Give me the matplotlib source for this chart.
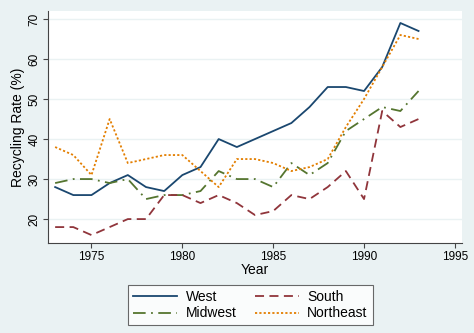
import numpy as np
import matplotlib
matplotlib.use("Agg")
import matplotlib.pyplot as plt

plt.rcParams['font.family'] = ['Liberation Sans', 'DejaVu Sans']

years = np.arange(1973, 1994)
west = [28, 26, 26, 29, 31, 28, 27, 31, 33, 40, 38, 40, 42, 44, 48, 53, 53, 52, 58, 69, 67]
south = [18, 18, 16, 18, 20, 20, 26, 26, 24, 26, 24, 21, 22, 26, 25, 28, 32, 25, 47, 43, 45]
midwest = [29, 30, 30, 29, 30, 25, 26, 26, 27, 32, 30, 30, 28, 34, 31, 34, 42, 45, 48, 47, 52]
northeast = [38, 36, 31, 45, 34, 35, 36, 36, 32, 28, 35, 35, 34, 32, 33, 35, 43, 50, 58, 66, 65]

xticks = [1975, 1980, 1985, 1990, 1995]
yticks = [20, 30, 40, 50, 60, 70]

bg = "#eaf2f3"
fig = plt.figure(figsize=(4.74, 3.33), dpi=100, facecolor=bg)
ax = fig.add_axes([0.101, 0.270, 0.874, 0.697])
ax.set_facecolor("white")

ax.plot(years, west, color="#1a476f", lw=1.3, label="West")
ax.plot(years, midwest, color="#55752f", lw=1.3, ls=(0, (7, 3, 1, 3)), label="Midwest")
ax.plot(years, south, color="#90353b", lw=1.3, ls=(0, (5, 3)), label="South")
ax.plot(years, northeast, color="#e37e00", lw=1.3, ls=(0, (1.2, 1.2)), label="Northeast")

ax.set_xlim(1972.6, 1995.4)
ax.set_ylim(14, 72)
ax.set_xticks(xticks)
ax.set_yticks(yticks)
ax.grid(axis="y", color=bg, lw=1)
ax.set_axisbelow(True)
for s in ["top", "right"]:
    ax.spines[s].set_visible(False)
for s in ["left", "bottom"]:
    ax.spines[s].set_color("#444444")
    ax.spines[s].set_linewidth(0.8)
ax.tick_params(axis="both", labelsize=8.5, color="#444444", length=3.5, width=0.8, pad=2)
ax.tick_params(axis="y", labelrotation=90)
for lab in ax.get_yticklabels():
    lab.set_va("center")
ax.set_ylabel("Recycling Rate (%)", fontsize=10, labelpad=2)
ax.set_xlabel("Year", fontsize=10, labelpad=0)

leg = fig.legend(loc="center", bbox_to_anchor=(0.528, 0.084), ncol=2, fontsize=10,
                 frameon=True, fancybox=False, edgecolor="#444444",
                 handlelength=3.2, handletextpad=0.6, columnspacing=1.3,
                 labelspacing=0.2, borderpad=0.35)
leg.get_frame().set_linewidth(0.8)

fig.savefig("out.png", dpi=100, facecolor=bg)
